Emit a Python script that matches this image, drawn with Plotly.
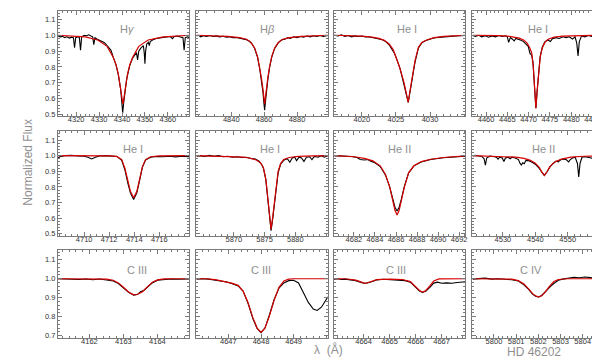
import plotly.graph_objects as go

# Row 1
HG_OBS_WL = [4312.0, 4313.0, 4314.0, 4315.0, 4316.0, 4317.0, 4318.0, 4318.8, 4319.3, 4319.8, 4320.8, 4321.4, 4321.9,
             4322.4, 4323.5, 4324.5, 4325.5, 4326.5, 4327.2, 4327.7, 4328.2, 4329.2, 4330.2, 4331.2, 4332.2, 4333.2,
             4334.2, 4335.2, 4336.2, 4337.4, 4338.4, 4339.4, 4339.9, 4340.3, 4340.7, 4341.2, 4342.0, 4342.6, 4343.4,
             4344.6, 4345.6, 4346.3, 4346.8, 4347.3, 4348.3, 4349.3, 4349.7, 4350.0, 4350.3, 4350.8, 4351.5, 4351.9,
             4352.3, 4353.5, 4355.0, 4357.0, 4359.0, 4361.0, 4362.0, 4362.6, 4364.0, 4365.5, 4366.6, 4367.1, 4367.6,
             4368.5, 4369.4]
HG_OBS_FL = [0.997, 0.99, 0.993, 0.985, 0.99, 0.982, 0.988, 0.985, 0.922, 0.985, 0.99, 0.985, 0.905,
             0.99, 1.0, 0.997, 1.003, 0.995, 0.99, 0.94, 0.985, 0.975, 0.968, 0.965, 0.955, 0.94,
             0.925, 0.905, 0.86, 0.812, 0.75, 0.66, 0.58, 0.51, 0.57, 0.64, 0.72, 0.76, 0.81,
             0.855, 0.875, 0.89, 0.845, 0.9, 0.92, 0.935, 0.89, 0.82, 0.9, 0.945, 0.955, 0.935,
             0.96, 0.972, 0.98, 0.985, 0.99, 0.992, 0.978, 0.99, 0.995, 0.99, 0.985, 0.905, 0.985,
             0.99, 0.985]
HG_MOD_WL = [4312, 4318, 4324, 4329.4, 4333.5, 4336.2, 4337.4, 4338.4, 4339.4, 4339.9, 4340.4, 4340.9, 4341.4,
             4342.4, 4343.4, 4344.6, 4347.3, 4351.4, 4358, 4364, 4369.4]
HG_MOD_FL = [1.0, 0.997, 0.99, 0.97, 0.93, 0.86, 0.815, 0.755, 0.67, 0.61, 0.565, 0.61, 0.67,
             0.755, 0.815, 0.86, 0.93, 0.97, 0.99, 0.997, 1.0]

HB_OBS_WL = [4818.8, 4820, 4821.5, 4823, 4825, 4827, 4829, 4831, 4833, 4835, 4837, 4839, 4841, 4843, 4845, 4847,
             4849.3, 4851, 4852.5, 4854.2, 4856, 4857.3, 4858.3, 4859.3, 4859.8, 4860.3, 4860.8, 4861.3, 4862.3,
             4863.3, 4864.6, 4866.4, 4868.6, 4870.5, 4872.5, 4874.5, 4876, 4878, 4880, 4882, 4884, 4886, 4888,
             4890, 4892, 4894, 4896, 4898.8]
HB_OBS_FL = [0.995, 1.0, 0.99, 0.997, 0.993, 0.998, 0.992, 0.996, 0.99, 0.994, 0.988, 0.99, 0.985, 0.986, 0.982,
             0.978, 0.972, 0.962, 0.948, 0.918, 0.86, 0.79, 0.72, 0.64, 0.58, 0.527, 0.58, 0.645, 0.725,
             0.795, 0.86, 0.917, 0.952, 0.97, 0.975, 0.985, 0.98, 0.99, 0.985, 0.992, 0.988, 0.995, 0.99,
             0.997, 0.992, 0.998, 0.993, 0.998]
HB_MOD_WL = [4818.8, 4830, 4838, 4845, 4849.3, 4852, 4854.2, 4856, 4857.3, 4858.3, 4859.3, 4859.8, 4860.3,
             4860.8, 4861.3, 4862.3, 4863.3, 4864.6, 4866.4, 4868.6, 4871.3, 4875.5, 4882.6, 4890, 4898.8]
HB_MOD_FL = [1.0, 0.998, 0.993, 0.985, 0.975, 0.955, 0.92, 0.865, 0.8, 0.735, 0.66, 0.61, 0.565,
             0.61, 0.66, 0.735, 0.8, 0.865, 0.92, 0.955, 0.975, 0.985, 0.993, 0.998, 1.0]

HE4026_OBS_WL = [4015.9, 4016.5, 4017.0, 4017.5, 4018.0, 4018.5, 4019.0, 4019.5, 4020.0, 4020.5, 4021.0, 4021.5,
                 4022.0, 4022.5, 4023.0, 4023.5, 4024.0, 4024.4, 4024.8, 4025.2, 4025.6, 4026.0, 4026.4, 4026.8,
                 4027.1, 4027.4, 4027.8, 4028.3, 4028.8, 4029.3, 4029.8, 4030.3, 4030.8, 4031.5, 4032.2, 4033.0,
                 4033.8, 4034.5, 4035.2]
HE4026_OBS_FL = [1.0, 0.995, 1.003, 0.993, 0.998, 0.99, 0.996, 0.992, 0.995, 0.99, 0.99, 0.985,
                 0.984, 0.978, 0.972, 0.96, 0.94, 0.912, 0.885, 0.84, 0.79, 0.72, 0.64, 0.576,
                 0.65, 0.735, 0.83, 0.92, 0.952, 0.965, 0.975, 0.98, 0.984, 0.988, 0.99, 0.993,
                 0.995, 0.997, 0.998]
HE4026_MOD_WL = [4015.9, 4018, 4020, 4021.5, 4022.5, 4023.3, 4024.0, 4024.6, 4025.2, 4025.6, 4026.2, 4026.5,
                 4026.8, 4027.1, 4027.4, 4027.8, 4028.3, 4028.8, 4029.6, 4030.6, 4032, 4034, 4035.2]
HE4026_MOD_FL = [1.0, 0.998, 0.994, 0.988, 0.98, 0.968, 0.945, 0.91, 0.84, 0.79, 0.7, 0.63,
                 0.576, 0.66, 0.74, 0.84, 0.925, 0.955, 0.972, 0.985, 0.993, 0.998, 1.0]

HE4471_OBS_WL = [4456.8, 4457.5, 4458.3, 4459.0, 4459.8, 4460.6, 4461.4, 4462.2, 4463.0, 4463.8, 4464.6, 4465.0,
                 4465.3, 4465.7, 4466.2, 4466.6, 4467.0, 4467.6, 4468.2, 4468.8, 4469.4, 4469.9, 4470.3, 4470.7,
                 4471.0, 4471.3, 4471.7, 4472.0, 4472.3, 4472.7, 4473.2, 4473.8, 4474.5, 4475.1, 4475.6, 4476.4,
                 4477.2, 4478.0, 4478.8, 4479.5, 4480.3, 4480.9, 4481.3, 4481.6, 4481.9, 4482.4, 4483.2, 4484.0,
                 4484.8, 4485.6, 4486.3, 4487.1]
HE4471_OBS_FL = [0.998, 0.993, 1.0, 0.99, 0.997, 0.988, 0.996, 0.99, 0.998, 0.992, 0.997, 0.99,
                 0.955, 0.985, 0.975, 0.965, 0.98, 0.975, 0.968, 0.96, 0.945, 0.93, 0.885, 0.875,
                 0.835, 0.7, 0.54, 0.65, 0.77, 0.865, 0.925, 0.958, 0.97, 0.96, 0.978, 0.985,
                 0.98, 0.99, 0.985, 0.99, 0.976, 0.99, 0.95, 0.87, 0.96, 0.995, 0.99, 0.998,
                 0.993, 1.005, 1.0, 1.003]
HE4471_MOD_WL = [4456.8, 4460, 4463, 4465, 4466.5, 4467.8, 4468.8, 4469.6, 4470.2, 4470.7, 4471.1, 4471.4,
                 4471.7, 4472.0, 4472.3, 4472.7, 4473.2, 4473.8, 4474.6, 4476, 4478, 4481, 4484, 4487.1]
HE4471_MOD_FL = [1.0, 1.0, 0.998, 0.995, 0.99, 0.982, 0.97, 0.952, 0.925, 0.89, 0.8, 0.66,
                 0.54, 0.65, 0.76, 0.86, 0.92, 0.955, 0.975, 0.988, 0.995, 0.998, 1.0, 1.0]

# Row 2
HE4713_OBS_WL = [4707.9, 4708.1, 4708.5, 4709.0, 4709.5, 4710.0, 4710.3, 4710.6, 4710.9, 4711.2, 4711.7, 4712.2,
                 4712.6, 4713.0, 4713.25, 4713.5, 4713.7, 4713.95, 4714.2, 4714.4, 4714.65, 4714.9, 4715.3,
                 4715.8, 4716.3, 4716.8, 4717.3, 4717.8, 4718.4]
HE4713_OBS_FL = [0.985, 0.995, 1.0, 1.002, 0.998, 0.996, 0.99, 0.979, 0.99, 0.998, 1.0, 0.999,
                 0.995, 0.97, 0.91, 0.82, 0.76, 0.72, 0.76, 0.83, 0.925, 0.972, 0.99,
                 0.995, 0.993, 0.996, 0.992, 0.996, 0.994]
HE4713_MOD_WL = [4707.9, 4709, 4710, 4711, 4712, 4712.6, 4713.0, 4713.25, 4713.5, 4713.7, 4713.95, 4714.2,
                 4714.4, 4714.65, 4714.9, 4715.3, 4716, 4717, 4718.4]
HE4713_MOD_FL = [1.0, 1.0, 1.0, 1.0, 0.999, 0.995, 0.975, 0.92, 0.83, 0.77, 0.73, 0.77,
                 0.84, 0.93, 0.975, 0.993, 0.999, 1.0, 1.0]

HE5876_OBS_WL = [5863.9, 5864.5, 5865.2, 5866.0, 5866.8, 5867.5, 5868.3, 5869.0, 5869.8, 5870.5, 5871.3, 5872.0,
                 5872.8, 5873.5, 5874.1, 5874.5, 5874.8, 5875.2, 5875.5, 5875.8, 5876.05, 5876.3, 5876.6,
                 5876.9, 5877.2, 5877.6, 5878.1, 5878.7, 5879.1, 5879.5, 5879.9, 5880.2, 5880.6, 5881.0,
                 5881.4, 5881.8, 5882.3, 5882.7, 5883.1, 5883.7, 5884.2, 5884.7, 5885.3]
HE5876_OBS_FL = [0.997, 1.0, 0.995, 1.002, 0.996, 1.0, 0.993, 0.996, 0.99, 0.993, 0.988, 0.99,
                 0.982, 0.978, 0.965, 0.945, 0.92, 0.845, 0.73, 0.6, 0.52, 0.59, 0.7,
                 0.81, 0.89, 0.945, 0.97, 0.98, 0.958, 0.985, 0.99, 0.968, 0.99, 0.985,
                 0.963, 0.99, 0.993, 0.975, 0.995, 0.99, 1.0, 0.99, 1.0]
HE5876_MOD_WL = [5863.9, 5866, 5868, 5870, 5871.5, 5872.5, 5873.5, 5874.3, 5874.8, 5875.2, 5875.5, 5875.8,
                 5876.05, 5876.3, 5876.6, 5876.9, 5877.2, 5877.6, 5878.1, 5879, 5880.5, 5883, 5885.3]
HE5876_MOD_FL = [1.0, 0.998, 0.996, 0.993, 0.99, 0.985, 0.975, 0.955, 0.925, 0.85, 0.74, 0.61,
                 0.53, 0.6, 0.71, 0.82, 0.9, 0.95, 0.975, 0.988, 0.995, 0.998, 1.0]

HE4686_OBS_WL = [4680.1, 4680.6, 4681.2, 4681.8, 4682.3, 4682.6, 4683.0, 4683.3, 4683.6, 4684.0, 4684.5, 4685.0,
                 4685.4, 4685.7, 4685.9, 4686.1, 4686.3, 4686.5, 4686.8, 4687.2, 4687.7, 4688.4, 4689.3,
                 4690.5, 4691.5, 4692.6]
HE4686_OBS_FL = [1.0, 0.998, 1.0, 0.995, 0.988, 0.975, 0.972, 0.975, 0.965, 0.955, 0.93, 0.875,
                 0.8, 0.72, 0.67, 0.645, 0.67, 0.72, 0.805, 0.89, 0.935, 0.96, 0.975,
                 0.987, 0.993, 0.997]
HE4686_MOD_WL = [4680.1, 4681, 4682, 4683, 4683.8, 4684.5, 4685, 4685.4, 4685.7, 4685.9, 4686.1, 4686.3,
                 4686.5, 4686.8, 4687.2, 4687.7, 4688.4, 4689.3, 4690.5, 4691.5, 4692.6]
HE4686_MOD_FL = [1.0, 0.998, 0.993, 0.983, 0.967, 0.935, 0.88, 0.8, 0.71, 0.65, 0.62, 0.65,
                 0.71, 0.8, 0.89, 0.935, 0.962, 0.977, 0.988, 0.994, 0.998]

HE4542_OBS_WL = [4520.6, 4521.5, 4522.5, 4523.5, 4524.2, 4524.6, 4525.0, 4526.0, 4527.0, 4528.0, 4528.5, 4529.0,
                 4529.8, 4530.3, 4530.8, 4531.6, 4532.2, 4532.8, 4533.8, 4534.8, 4535.3, 4535.7, 4536.1,
                 4536.6, 4537.1, 4538.0, 4539.0, 4540.0, 4541.2, 4542.0, 4542.8, 4543.6, 4544.5, 4545.5,
                 4546.4, 4547.1, 4547.6, 4548.5, 4549.5, 4550.3, 4550.8, 4551.5, 4552.3, 4553.0, 4553.4,
                 4553.8, 4554.4, 4555.3, 4556.3, 4557.3, 4557.8, 4558.5, 4559.5, 4560.2, 4560.6, 4561.2]
HE4542_OBS_FL = [0.998, 1.002, 0.998, 0.995, 0.98, 0.94, 0.985, 0.998, 0.995, 0.99, 0.978, 0.99,
                 0.985, 0.962, 0.985, 0.99, 0.98, 0.99, 0.985, 0.975, 0.95, 0.94, 0.955,
                 0.948, 0.97, 0.968, 0.958, 0.945, 0.918, 0.892, 0.872, 0.895, 0.928, 0.95,
                 0.965, 0.96, 0.97, 0.978, 0.975, 0.96, 0.975, 0.985, 0.99, 0.95, 0.864,
                 0.95, 0.99, 0.993, 0.99, 0.985, 0.978, 0.992, 0.995, 0.99, 0.96, 0.985]
HE4542_MOD_WL = [4520.6, 4525, 4530, 4534, 4536.5, 4538.5, 4540, 4541.2, 4542, 4542.8, 4543.6, 4544.5, 4546,
                 4548, 4551, 4555, 4561.2]
HE4542_MOD_FL = [1.0, 0.998, 0.995, 0.99, 0.983, 0.97, 0.952, 0.925, 0.895, 0.875, 0.897, 0.93, 0.96,
                 0.978, 0.99, 0.996, 1.0]

# Row 3
C4163_OBS_WL = [4161.07, 4161.3, 4161.5, 4161.7, 4161.9, 4162.1, 4162.3, 4162.5, 4162.7, 4162.85, 4163.0,
                4163.15, 4163.3, 4163.42, 4163.5, 4163.6, 4163.7, 4163.85, 4164.0, 4164.2, 4164.4, 4164.6,
                4164.8, 4164.94]
C4163_OBS_FL = [1.0, 0.998, 1.0, 0.996, 0.999, 0.995, 0.999, 0.995, 0.988, 0.975, 0.952,
                0.928, 0.914, 0.918, 0.932, 0.938, 0.955, 0.978, 0.992, 0.997, 0.999, 0.997,
                1.0, 0.999]
C4163_MOD_WL = [4161.07, 4161.5, 4162, 4162.5, 4162.7, 4162.85, 4163.0, 4163.15, 4163.3, 4163.4, 4163.55,
                4163.7, 4163.85, 4164.0, 4164.2, 4164.5, 4164.94]
C4163_MOD_FL = [1.0, 1.0, 1.0, 0.998, 0.992, 0.978, 0.955, 0.93, 0.915, 0.917, 0.93,
                0.958, 0.982, 0.994, 0.999, 1.0, 1.0]

C4647_OBS_WL = [4646.02, 4646.2, 4646.4, 4646.6, 4646.8, 4646.95, 4647.1, 4647.3, 4647.45, 4647.6, 4647.75,
                4647.88, 4648.0, 4648.12, 4648.25, 4648.4, 4648.55, 4648.7, 4648.85, 4649.0, 4649.15,
                4649.3, 4649.45, 4649.6, 4649.72, 4649.85, 4650.05]
C4647_OBS_FL = [0.998, 1.0, 0.998, 0.993, 0.985, 0.983, 0.975, 0.962, 0.935, 0.872, 0.79,
                0.738, 0.716, 0.74, 0.805, 0.89, 0.95, 0.978, 0.99, 0.992, 0.978,
                0.93, 0.875, 0.84, 0.833, 0.85, 0.905]
C4647_MOD_WL = [4646.02, 4646.3, 4646.6, 4646.9, 4647.1, 4647.3, 4647.45, 4647.6, 4647.75, 4647.88, 4648.0,
                4648.12, 4648.25, 4648.4, 4648.55, 4648.7, 4648.85, 4649.0, 4649.5, 4650.05]
C4647_MOD_FL = [1.0, 1.0, 0.995, 0.985, 0.977, 0.965, 0.935, 0.875, 0.795, 0.74, 0.717,
                0.74, 0.8, 0.885, 0.955, 0.988, 0.998, 1.0, 1.0, 1.0]

C4665_OBS_WL = [4662.86, 4663.0, 4663.15, 4663.3, 4663.5, 4663.7, 4663.9, 4664.06, 4664.25, 4664.5, 4664.75,
                4665.0, 4665.3, 4665.6, 4665.8, 4666.0, 4666.15, 4666.27, 4666.4, 4666.55, 4666.7, 4666.85,
                4667.0, 4667.2, 4667.4, 4667.6, 4667.92]
C4665_OBS_FL = [0.998, 1.0, 0.996, 0.998, 0.994, 0.99, 0.98, 0.975, 0.982, 0.993, 0.997,
                0.996, 0.995, 0.99, 0.982, 0.958, 0.935, 0.928, 0.935, 0.955, 0.977, 0.982,
                0.976, 0.978, 0.976, 0.98, 0.984]
C4665_MOD_WL = [4662.86, 4663.3, 4663.7, 4663.9, 4664.06, 4664.25, 4664.5, 4665, 4665.5, 4665.8, 4666.0,
                4666.15, 4666.27, 4666.4, 4666.55, 4666.7, 4666.9, 4667.3, 4667.92]
C4665_MOD_FL = [1.0, 1.0, 0.993, 0.982, 0.976, 0.983, 0.995, 0.998, 0.996, 0.985, 0.96,
                0.938, 0.93, 0.938, 0.962, 0.988, 0.999, 1.0, 1.0]

C5801_OBS_WL = [5799.03, 5799.3, 5799.6, 5799.9, 5800.2, 5800.5, 5800.8, 5801.1, 5801.35, 5801.55, 5801.75,
                5801.9, 5802.02, 5802.15, 5802.3, 5802.45, 5802.55, 5802.7, 5802.9, 5803.1, 5803.35, 5803.6,
                5803.85, 5804.1, 5804.35, 5804.6, 5804.96]
C5801_OBS_FL = [0.998, 1.0, 1.003, 0.998, 1.0, 0.997, 0.995, 0.988, 0.968, 0.945, 0.918,
                0.906, 0.904, 0.912, 0.93, 0.952, 0.96, 0.975, 0.992, 0.998, 1.004, 1.008,
                1.005, 1.009, 1.006, 1.0, 1.0]
C5801_MOD_WL = [5799.03, 5800, 5800.8, 5801.1, 5801.35, 5801.55, 5801.75, 5801.9, 5802.02, 5802.15, 5802.3,
                5802.5, 5802.7, 5802.9, 5803.3, 5804, 5804.96]
C5801_MOD_FL = [1.0, 1.0, 0.998, 0.99, 0.972, 0.948, 0.92, 0.908, 0.905, 0.91, 0.928,
                0.96, 0.985, 0.996, 1.0, 1.0, 1.0]

LABELS = ["H<i>γ</i>", "H<i>β</i>", "He I", "He I",
          "He I", "He I", "He II", "He II",
          "C III", "C III", "C III", "C IV"]

# labelled wavelength ticks of each panel
X_TICKS = [
    [4320, 4330, 4340, 4350, 4360],
    [4840, 4860, 4880],
    [4020, 4025, 4030],
    [4460, 4465, 4470, 4475, 4480, 4485],
    [4710, 4712, 4714, 4716],
    [5870, 5875, 5880],
    [4682, 4684, 4686, 4688, 4690, 4692],
    [4530, 4540, 4550],
    [4162, 4163, 4164],
    [4647, 4648, 4649],
    [4664, 4665, 4666, 4667],
    [5800, 5801, 5802, 5803, 5804],
]

panels = [
    (HG_OBS_WL, HG_OBS_FL, HG_MOD_WL, HG_MOD_FL),
    (HB_OBS_WL, HB_OBS_FL, HB_MOD_WL, HB_MOD_FL),
    (HE4026_OBS_WL, HE4026_OBS_FL, HE4026_MOD_WL, HE4026_MOD_FL),
    (HE4471_OBS_WL, HE4471_OBS_FL, HE4471_MOD_WL, HE4471_MOD_FL),
    (HE4713_OBS_WL, HE4713_OBS_FL, HE4713_MOD_WL, HE4713_MOD_FL),
    (HE5876_OBS_WL, HE5876_OBS_FL, HE5876_MOD_WL, HE5876_MOD_FL),
    (HE4686_OBS_WL, HE4686_OBS_FL, HE4686_MOD_WL, HE4686_MOD_FL),
    (HE4542_OBS_WL, HE4542_OBS_FL, HE4542_MOD_WL, HE4542_MOD_FL),
    (C4163_OBS_WL, C4163_OBS_FL, C4163_MOD_WL, C4163_MOD_FL),
    (C4647_OBS_WL, C4647_OBS_FL, C4647_MOD_WL, C4647_MOD_FL),
    (C4665_OBS_WL, C4665_OBS_FL, C4665_MOD_WL, C4665_MOD_FL),
    (C5801_OBS_WL, C5801_OBS_FL, C5801_MOD_WL, C5801_MOD_FL),
]

# ---- layout settings (pixel geometry of the 600x363 page) ----
W, H = 600, 363
col_px = [(50, 182), (189, 321), (327, 459), (466, 598)]
row_px = [(3.5, 109), (124, 230), (244.3, 332.3)]
y_ranges = [[0.49, 1.15], [0.485, 1.158], [0.69, 1.15]]
x_ranges = [[4312, 4369.4], [4818.8, 4898.8], [4015.9, 4035.2], [4456.8, 4487.7],
            [4707.9, 4718.4], [5863.9, 5885.3], [4680.1, 4692.6], [4520.6, 4561.2],
            [4161.07, 4164.94], [4646.02, 4650.05], [4662.86, 4667.92], [5799.03, 5804.96]]
minor_dt = [2, 5, 1, 1, 0.5, 1, 0.5, 2, 0.2, 0.2, 0.2, 0.2]
label_x = [4342.4, 4861.8, 4026.6, 4472.2, 4713.9, 5875.9, 4686.35, 4542.4,
           4163.39, 4648.0, 4665.24, 5801.68]
label_y = [1.04, 1.04, 1.048]

FRAME = "#7a7a7a"
FONT = "Liberation Sans, Arial, sans-serif"
TICKFONT = dict(family=FONT, size=7.5, color="#333333")
GRAY = "#8f8f8f"

fig = go.Figure()
layout = dict(
    width=W, height=H,
    margin=dict(l=0, r=0, t=0, b=0),
    paper_bgcolor="white", plot_bgcolor="white",
    showlegend=False,
)
annotations = []

for i, (ow, of, mw, mf) in enumerate(panels):
    r, c = divmod(i, 4)
    n = i + 1
    xa = "x" if n == 1 else f"x{n}"
    ya = "y" if n == 1 else f"y{n}"
    fig.add_trace(go.Scatter(x=ow, y=of, mode="lines", xaxis=xa, yaxis=ya,
                             line=dict(color="black", width=1.1), hoverinfo="skip"))
    fig.add_trace(go.Scatter(x=mw, y=mf, mode="lines", xaxis=xa, yaxis=ya,
                             line=dict(color="#d40000", width=1.2), hoverinfo="skip"))

    x0, x1 = col_px[c]
    y0, y1 = row_px[r]
    layout[f"xaxis{n}"] = dict(
        domain=[x0 / W, x1 / W], anchor=ya, range=x_ranges[i],
        tickmode="array", tickvals=X_TICKS[i], ticks="inside", ticklen=4, tickcolor=FRAME,
        ticklabelstandoff=-4,
        showline=True, linecolor=FRAME, linewidth=1, mirror="ticks",
        showgrid=False, zeroline=False, tickfont=TICKFONT,
        minor=dict(ticks="inside", ticklen=2, tickcolor=FRAME, dtick=minor_dt[i], tick0=0, showgrid=False),
    )
    layout[f"yaxis{n}"] = dict(
        domain=[1 - y1 / H, 1 - y0 / H], anchor=xa, range=y_ranges[r],
        dtick=0.1, tick0=0, tickformat=".1f", ticks="inside", ticklen=4, tickcolor=FRAME,
        showline=True, linecolor=FRAME, linewidth=1, mirror="ticks",
        showgrid=False, zeroline=False, tickfont=TICKFONT, showticklabels=(c == 0),
        minor=dict(ticks="inside", ticklen=2, tickcolor=FRAME, dtick=0.02, tick0=0, showgrid=False),
    )
    annotations.append(dict(
        x=label_x[i], y=label_y[r], xref=xa, yref=ya, text=LABELS[i], showarrow=False,
        font=dict(family=FONT, size=11, color=GRAY),
    ))

annotations.append(dict(
    x=11 / W, y=1 - 155 / H, xref="paper", yref="paper", text="Normalized Flux", showarrow=False,
    textangle=-90, font=dict(family=FONT, size=12, color=GRAY),
))
annotations.append(dict(
    x=322 / W, y=1 - 354 / H, xref="paper", yref="paper", text="λ  (Å)", showarrow=False,
    font=dict(family=FONT, size=12, color=GRAY),
))
annotations.append(dict(
    x=557 / W, y=1 - 356 / H, xref="paper", yref="paper", text="HD 46202", showarrow=False,
    font=dict(family=FONT, size=12, color=GRAY),
))
layout["annotations"] = annotations

fig.update_layout(**layout)
fig.write_html("out.html")
